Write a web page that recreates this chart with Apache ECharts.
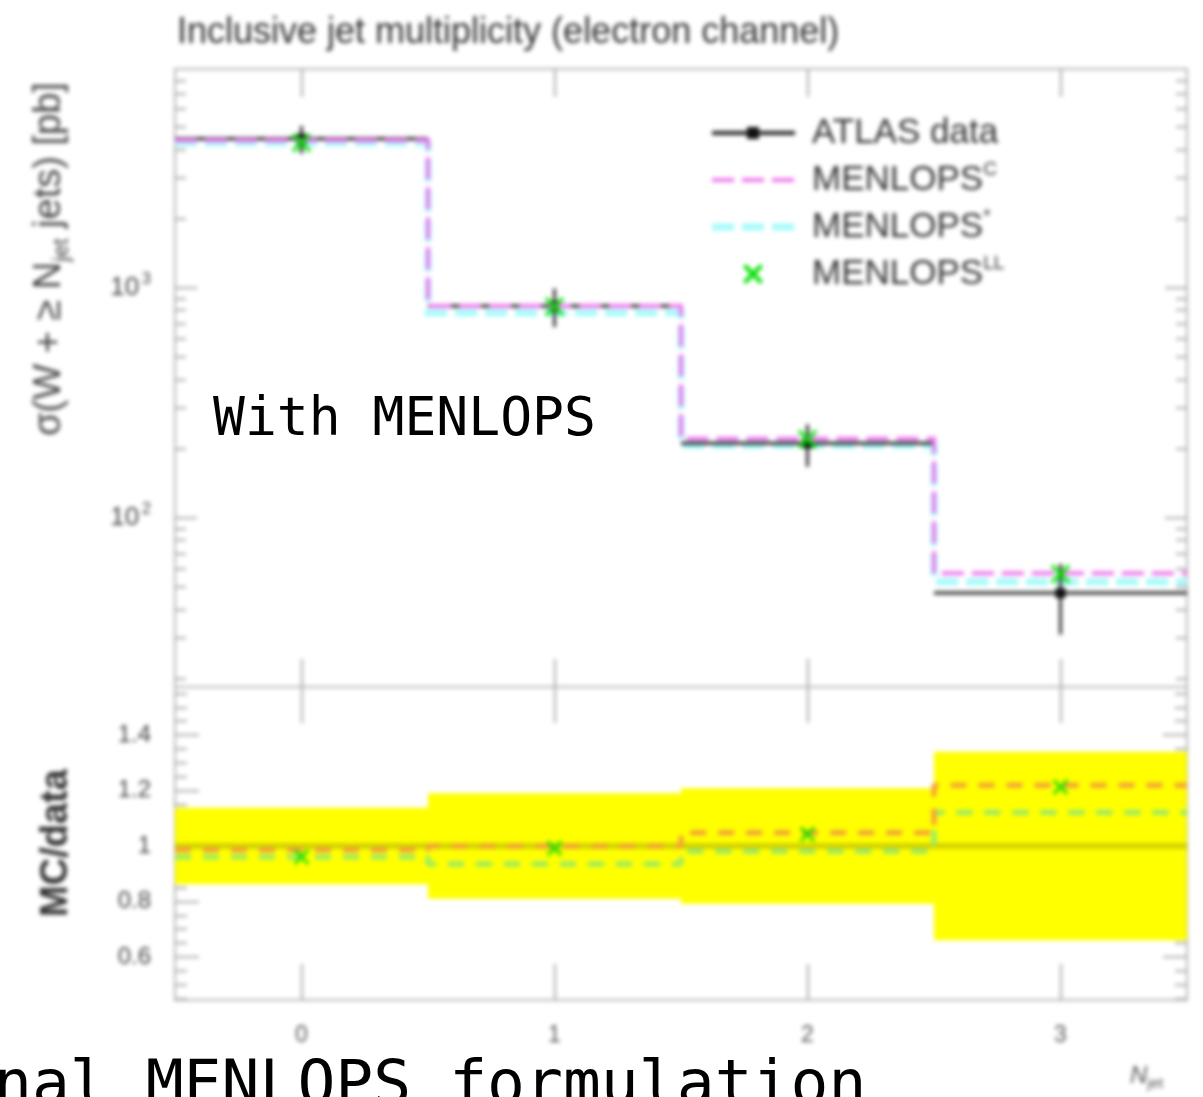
<!DOCTYPE html>
<html>
<head>
<meta charset="utf-8">
<script src="https://cdn.jsdelivr.net/npm/echarts@6/dist/echarts.min.js"></script>
<style>
  html, body { margin: 0; padding: 0; width: 1203px; height: 1097px; overflow: hidden; background: #fff; }
  #chart { position: absolute; left: 0; top: 0; width: 1203px; height: 1097px; filter: blur(2.1px); }
  .note { position: absolute; font-family: "DejaVu Sans Mono", monospace; color: #000; white-space: nowrap; line-height: 1; }
</style>
</head>
<body>
<div id="chart"></div>
<div class="note" style="left:213px; top:390px; font-size:53px;">With MENLOPS</div>
<div class="note" style="left:-6px; top:1051px; font-size:63px;">nal MENLOPS formulation</div>
<script>
// Inclusive jet multiplicity, W -> e nu channel: sigma(W + >= N_jet jets) in pb
const jetBins = [0, 1, 2, 3];
const xTickLabels = ['0', '1', '2', '3'];
const dataXsec = [4450, 835, 211, 47.1];
const dataErr = [614, 159, 44, 16];
const menlopsC = [4390, 834, 221, 57.4];
const menlopsStar = [4275, 781, 207, 52.8];
const menlopsLL = [4275, 828, 220, 57.1];

const legendNames = ['ATLAS data', 'MENLOPS', 'MENLOPS', 'MENLOPS'];
const legendSups = ['', 'C', '*', 'LL'];

const topYTicks = [100, 1000];
const ratioYTicks = [0.6, 0.8, 1, 1.2, 1.4];

// axis ranges
const xMin = -0.5, xMax = 3.5;
const topMin = 18.4, topMax = 8955;
const ratioMin = 0.445, ratioMax = 1.573;

// log minor ticks (2..9 per decade) and linear minor ticks on the ratio axis
const topMinorTicks = [];
[10, 100, 1000].forEach(d => { for (let k = 2; k <= 9; k++) { const v = k * d; if (v > topMin && v < topMax) topMinorTicks.push(v); } });
const ratioMinorTicks = [];
for (let k = 9; k <= 31; k++) { const v = +(k * 0.05).toFixed(2); if (ratioYTicks.indexOf(v) < 0 && v > ratioMin && v < ratioMax) ratioMinorTicks.push(v); }

// histogram outline through the bin edges
function histogram(values) {
  const pts = [];
  values.forEach((v, i) => { pts.push([jetBins[i] - 0.5, v]); pts.push([jetBins[i] + 0.5, v]); });
  return pts;
}
const ratioOf = arr => arr.map((v, i) => v / dataXsec[i]);
const ratioC = ratioOf(menlopsC);
const ratioStar = ratioOf(menlopsStar);
const ratioLL = ratioOf(menlopsLL);
const dataRelErr = dataErr.map((e, i) => e / dataXsec[i]);

const tickColor = '#a8a8a8';
const labelColor = '#444';
const fontFam = 'Liberation Sans, Arial, sans-serif';
const xMark = 'path://M0,3L3,0L10,7L17,0L20,3L13,10L20,17L17,20L10,13L3,20L0,17L7,10Z';

function xAxisDef(grid, pos, len, withLabels) {
  return {
    type: 'value', gridIndex: grid, position: pos, min: xMin, max: xMax,
    axisLine: { show: false, onZero: false }, splitLine: { show: false },
    axisTick: { show: true, inside: true, length: len, customValues: jetBins, lineStyle: { color: tickColor, width: 2 } },
    axisLabel: withLabels ? {
      show: true, customValues: jetBins, margin: 24, fontSize: 23, color: '#555', fontFamily: fontFam,
      formatter: v => xTickLabels[jetBins.indexOf(v)]
    } : { show: false }
  };
}
function yAxisDef(grid, type, pos, min, max, ticks, len, label) {
  return {
    type: type, gridIndex: grid, position: pos, min: min, max: max,
    axisLine: { show: false, onZero: false }, splitLine: { show: false },
    axisTick: { show: true, inside: true, length: len, customValues: ticks, lineStyle: { color: tickColor, width: 2 } },
    axisLabel: label || { show: false }
  };
}

const topLabel = {
  show: true, customValues: topYTicks, margin: 24, color: labelColor, fontFamily: fontFam,
  formatter: v => '{b|10}{s|' + Math.round(Math.log10(v)) + '}',
  rich: {
    b: { fontSize: 26, lineHeight: 32, color: labelColor, fontFamily: fontFam },
    s: { fontSize: 16, lineHeight: 32, verticalAlign: 'top', color: labelColor, fontFamily: fontFam, padding: [0, 0, 0, 3] }
  }
};
const ratioLabel = {
  show: true, customValues: ratioYTicks, margin: 24, fontSize: 24, color: labelColor, fontFamily: fontFam,
  formatter: v => String(v)
};

// data markers: horizontal bin-width bar, vertical error bar, small square
function renderData(params, api) {
  const x = api.value(0), v = api.value(1), e = api.value(2);
  const l = api.coord([x - 0.5, v]), r = api.coord([x + 0.5, v]);
  const lo = api.coord([x, v - e]), hi = api.coord([x, v + e]);
  const c = api.coord([x, v]);
  return {
    type: 'group', children: [
      { type: 'line', shape: { x1: l[0], y1: l[1], x2: r[0], y2: r[1] }, style: { stroke: '#222', lineWidth: 3 } },
      { type: 'line', shape: { x1: lo[0], y1: lo[1], x2: hi[0], y2: hi[1] }, style: { stroke: '#333', lineWidth: 3 } },
      { type: 'rect', shape: { x: c[0] - 5, y: c[1] - 5, width: 10, height: 10 }, style: { fill: '#111' } }
    ]
  };
}
// data uncertainty band in the ratio panel with the unity line
function renderBand(params, api) {
  const x = api.value(0), rel = api.value(1), one = api.value(2);
  const tl = api.coord([x - 0.5, one + rel]), br = api.coord([x + 0.5, one - rel]);
  const l = api.coord([x - 0.5, one]), r = api.coord([x + 0.5, one]);
  return {
    type: 'group', children: [
      { type: 'rect', shape: { x: tl[0], y: tl[1], width: br[0] - tl[0], height: br[1] - tl[1] }, style: { fill: '#ffff00' } },
      { type: 'line', shape: { x1: l[0], y1: l[1], x2: r[0], y2: r[1] }, style: { stroke: '#d2d200', lineWidth: 6 } }
    ]
  };
}

// legend drawn as graphics
const legendRows = [133, 180, 227, 274];
const legendX0 = 712, legendX1 = 795, legendMid = 753;
const legendGraphics = [];
legendGraphics.push({ type: 'line', shape: { x1: legendX0, y1: legendRows[0], x2: legendX1, y2: legendRows[0] }, style: { stroke: '#222', lineWidth: 4 } });
legendGraphics.push({ type: 'rect', shape: { x: legendMid - 6, y: legendRows[0] - 6, width: 12, height: 12 }, style: { fill: '#111' } });
legendGraphics.push({ type: 'line', shape: { x1: legendX0, y1: legendRows[1], x2: legendX1, y2: legendRows[1] }, style: { stroke: '#ee77ee', lineWidth: 4, lineDash: [22, 8] } });
legendGraphics.push({ type: 'line', shape: { x1: legendX0, y1: legendRows[2], x2: legendX1, y2: legendRows[2] }, style: { stroke: '#a8fafa', lineWidth: 7, lineDash: [22, 8] } });
legendGraphics.push({
  type: 'polygon', shape: { points: [[-10, -7], [-7, -10], [0, -3], [7, -10], [10, -7], [3, 0], [10, 7], [7, 10], [0, 3], [-7, 10], [-10, 7], [-3, 0]] },
  x: legendMid, y: legendRows[3], style: { fill: '#00e000' }
});
legendNames.forEach((n, i) => {
  legendGraphics.push({
    type: 'text', x: 812, y: legendRows[i],
    style: {
      text: '{t|' + n + '}' + (legendSups[i] ? '{s|' + legendSups[i] + '}' : ''),
      verticalAlign: 'middle', align: 'left',
      rich: {
        t: { fontSize: 35, lineHeight: 40, fill: '#333', fontFamily: fontFam },
        s: { fontSize: 19, lineHeight: 40, verticalAlign: 'top', fill: '#333', fontFamily: fontFam }
      }
    }
  });
});

const chart = echarts.init(document.getElementById('chart'), null, { renderer: 'canvas' });
chart.setOption({
  animation: false,
  backgroundColor: '#fff',
  title: {
    text: 'Inclusive jet multiplicity (electron channel)',
    left: 172, top: 10,
    textStyle: { fontSize: 36, fontWeight: 'normal', color: '#333', fontFamily: fontFam }
  },
  grid: [
    { left: 175, right: 16, top: 69, height: 618, show: true, borderColor: '#b4b4b4', borderWidth: 2, backgroundColor: 'transparent' },
    { left: 175, right: 16, top: 687, height: 313, show: true, borderColor: '#b4b4b4', borderWidth: 2, backgroundColor: 'transparent' }
  ],
  xAxis: [
    xAxisDef(0, 'bottom', 28, false),
    xAxisDef(0, 'top', 28, false),
    xAxisDef(1, 'bottom', 36, true),
    xAxisDef(1, 'top', 36, false)
  ],
  yAxis: [
    yAxisDef(0, 'log', 'left', topMin, topMax, topYTicks, 22, topLabel),
    yAxisDef(0, 'log', 'left', topMin, topMax, topMinorTicks, 11),
    yAxisDef(0, 'log', 'right', topMin, topMax, topYTicks, 22),
    yAxisDef(0, 'log', 'right', topMin, topMax, topMinorTicks, 11),
    yAxisDef(1, 'value', 'left', ratioMin, ratioMax, ratioYTicks, 24, ratioLabel),
    yAxisDef(1, 'value', 'left', ratioMin, ratioMax, ratioMinorTicks, 12),
    yAxisDef(1, 'value', 'right', ratioMin, ratioMax, ratioYTicks, 24),
    yAxisDef(1, 'value', 'right', ratioMin, ratioMax, ratioMinorTicks, 12)
  ],
  graphic: [
    {
      type: 'text', x: 50, y: 259, rotation: Math.PI / 2,
      style: {
        text: '{t|σ(W + ≥ N}{sub|jet}{t| jets) [pb]}', align: 'center', verticalAlign: 'middle',
        rich: {
          t: { fontSize: 38, lineHeight: 46, fill: '#444', fontFamily: fontFam },
          sub: { fontSize: 22, lineHeight: 46, verticalAlign: 'bottom', fill: '#444', fontFamily: fontFam }
        }
      }
    },
    {
      type: 'text', x: 57, y: 843, rotation: Math.PI / 2,
      style: { text: 'MC/data', align: 'center', verticalAlign: 'middle', fontSize: 38, fontWeight: 'bold', fill: '#333', fontFamily: fontFam }
    },
    {
      type: 'text', x: 1130, y: 1076,
      style: {
        text: '{n|N}{sub|jet}', align: 'left', verticalAlign: 'middle',
        rich: {
          n: { fontSize: 24, fontStyle: 'italic', lineHeight: 30, fill: '#555', fontFamily: fontFam },
          sub: { fontSize: 15, lineHeight: 30, verticalAlign: 'bottom', fill: '#555', fontFamily: fontFam }
        }
      }
    }
  ].concat(legendGraphics),
  series: [
    {
      name: 'MENLOPS*', type: 'line', xAxisIndex: 0, yAxisIndex: 0, z: 3,
      data: histogram(menlopsStar), showSymbol: false, symbol: 'none',
      lineStyle: { color: '#a8fafa', width: 7, type: [22, 8], cap: 'butt', join: 'miter' }
    },
    {
      name: 'ATLAS data', type: 'custom', xAxisIndex: 0, yAxisIndex: 0, z: 4,
      renderItem: renderData, encode: { x: 0, y: 1 },
      data: jetBins.map((b, i) => [b, dataXsec[i], dataErr[i]])
    },
    {
      name: 'MENLOPS C', type: 'line', xAxisIndex: 0, yAxisIndex: 0, z: 5,
      data: histogram(menlopsC), showSymbol: false, symbol: 'none',
      lineStyle: { color: '#ee77ee', width: 4, type: [22, 8], cap: 'butt', join: 'miter' }
    },
    {
      name: 'MENLOPS LL', type: 'scatter', xAxisIndex: 0, yAxisIndex: 0, z: 6,
      data: jetBins.map((b, i) => [b, menlopsLL[i]]),
      symbol: xMark, symbolSize: 20, itemStyle: { color: '#00e000' }
    },
    {
      name: 'data band', type: 'custom', xAxisIndex: 2, yAxisIndex: 4, z: 1,
      renderItem: renderBand, encode: { x: 0, y: 2 },
      data: jetBins.map((b, i) => [b, dataRelErr[i], dataXsec[i] / dataXsec[i]])
    },
    {
      name: 'ratio MENLOPS*', type: 'line', xAxisIndex: 2, yAxisIndex: 4, z: 3,
      data: histogram(ratioStar), showSymbol: false, symbol: 'none',
      lineStyle: { color: '#98ea68', width: 5, type: [16, 12], cap: 'butt' }
    },
    {
      name: 'ratio MENLOPS C', type: 'line', xAxisIndex: 2, yAxisIndex: 4, z: 4,
      data: histogram(ratioC), showSymbol: false, symbol: 'none',
      lineStyle: { color: '#f2a13a', width: 5, type: [16, 12], cap: 'butt' }
    },
    {
      name: 'ratio MENLOPS LL', type: 'scatter', xAxisIndex: 2, yAxisIndex: 4, z: 5,
      data: jetBins.map((b, i) => [b, ratioLL[i]]),
      symbol: xMark, symbolSize: 16, itemStyle: { color: '#00dd00' }
    }
  ]
});
</script>
</body>
</html>
